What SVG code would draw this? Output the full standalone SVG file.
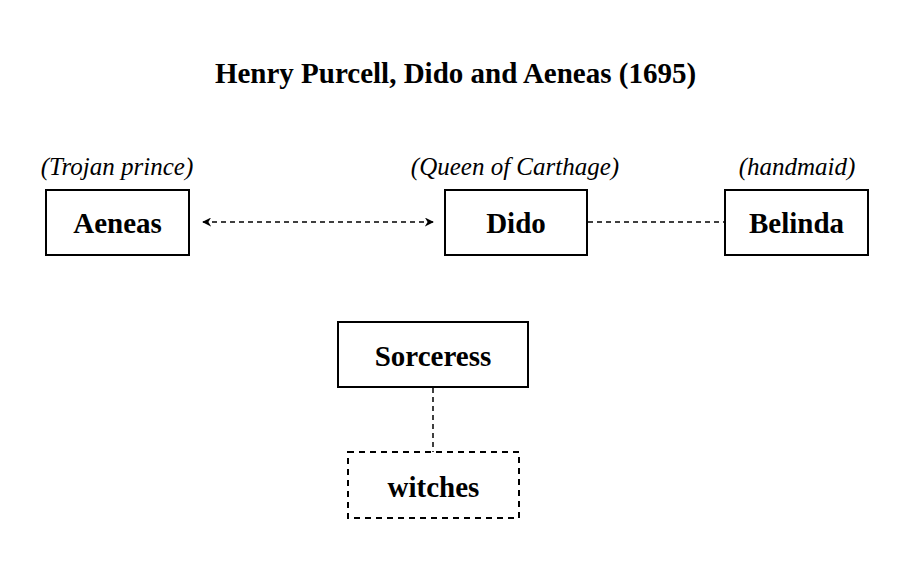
<svg xmlns="http://www.w3.org/2000/svg" width="911" height="573" viewBox="0 0 911 573">
<style>
.box{fill:#fff;stroke:#000;stroke-width:2}
.dbox{fill:#fff;stroke:#000;stroke-width:2;stroke-dasharray:6 5}
.name{font-family:"Liberation Serif",serif;font-weight:bold;font-size:29px;text-anchor:middle}
.role{font-family:"Liberation Serif",serif;font-style:italic;font-size:25px;text-anchor:middle}
.title{font-family:"Liberation Serif",serif;font-weight:bold;font-size:29px;text-anchor:middle}
.link{stroke:#000;stroke-width:1.5;fill:none;stroke-dasharray:5 4}
</style>
<defs>
<marker id="ah" viewBox="0 0 10 10" refX="9" refY="5" markerWidth="9" markerHeight="9" markerUnits="userSpaceOnUse" orient="auto-start-reverse">
<path d="M0,0 L10,5 L0,10 L3,5 Z" fill="#000"/>
</marker>
</defs>
<rect width="911" height="573" fill="#fff"/>
<text class="title" x="455.5" y="83">Henry Purcell, Dido and Aeneas (1695)</text>
<g id="connectors">
<line class="link" x1="203" y1="222" x2="433" y2="222" marker-start="url(#ah)" marker-end="url(#ah)"/>
<line class="link" x1="588" y1="222" x2="725" y2="222"/>
<line class="link" x1="433" y1="388" x2="433" y2="452"/>
</g>
<g id="aeneas">
<text class="role" x="117" y="175">(Trojan prince)</text>
<rect class="box" x="46" y="190" width="143" height="65"/>
<text class="name" x="117.5" y="233">Aeneas</text>
</g>
<g id="dido">
<text class="role" x="515" y="175">(Queen of Carthage)</text>
<rect class="box" x="445" y="190" width="142" height="65"/>
<text class="name" x="516" y="233">Dido</text>
</g>
<g id="belinda">
<text class="role" x="797" y="175">(handmaid)</text>
<rect class="box" x="725" y="190" width="143" height="65"/>
<text class="name" x="796.5" y="233">Belinda</text>
</g>
<g id="sorceress">
<rect class="box" x="338" y="322" width="190" height="65"/>
<text class="name" x="433" y="366">Sorceress</text>
</g>
<g id="witches">
<rect class="dbox" x="348" y="452" width="171" height="66"/>
<text class="name" x="433.5" y="497">witches</text>
</g>
</svg>
